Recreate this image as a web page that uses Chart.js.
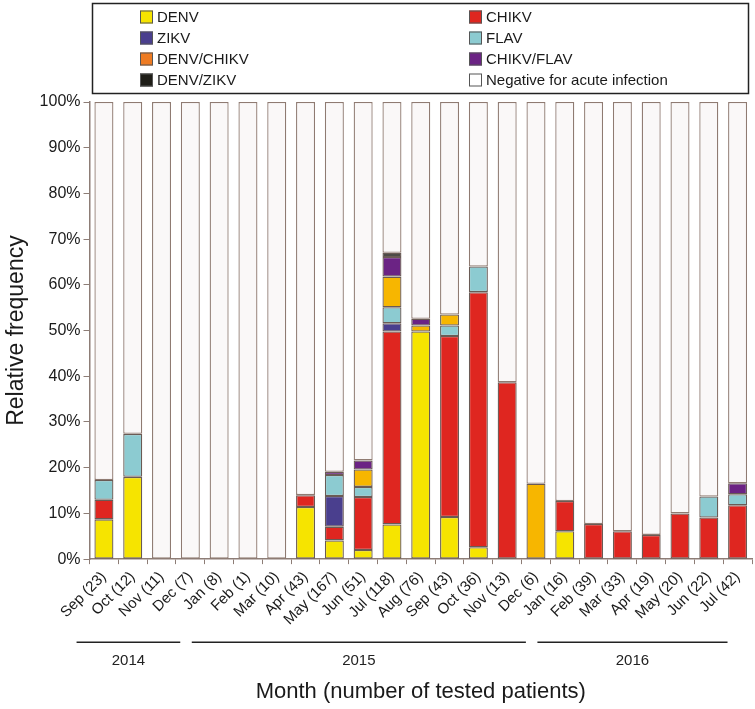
<!DOCTYPE html>
<html>
<head>
<meta charset="utf-8">
<script src="https://cdn.jsdelivr.net/npm/chart.js@4/dist/chart.umd.min.js"></script>
<style>
  html, body { margin: 0; padding: 0; background: #fff; }
  #wrap { width: 755px; height: 709px; }
</style>
</head>
<body>
<div id="wrap"><canvas id="myChart" width="755" height="709"></canvas></div>
<script>
const ctx = document.getElementById('myChart')

const months = [
    'Sep (23)', 'Oct (12)', 'Nov (11)', 'Dec (7)',
    'Jan (8)', 'Feb (1)', 'Mar (10)', 'Apr (43)', 'May (167)', 'Jun (51)',
    'Jul (118)', 'Aug (76)', 'Sep (43)', 'Oct (36)', 'Nov (13)', 'Dec (6)',
    'Jan (16)', 'Feb (39)', 'Mar (33)', 'Apr (19)', 'May (20)', 'Jun (22)', 'Jul (42)'
]

// year groups: first and last month index
const years = [
    { label: '2014', from: 0, to: 3 },
    { label: '2015', from: 4, to: 15 },
    { label: '2016', from: 16, to: 22 }
]

// percent of tested patients (stacked bottom to top)
const denv      = [8.7, 18.0, null, null, null, null, null, 11.4, 4.1, 2.0, 7.6, 49.8, 9.2, 2.6, null, null, 6.1, null, null, null, null, null, null]
const chikv     = [4.3, null, null, null, null, null, null, 2.6, 3.0, 11.6, 42.2, null, 39.6, 55.8, 38.7, null, 6.6, 7.7, 6.1, 5.3, 10.0, 9.1, 11.8]
const zikv      = [null, null, null, null, null, null, null, null, 6.7, null, 1.8, null, null, null, null, null, null, null, null, null, null, null, null]
const flav      = [4.3, 9.4, null, null, null, null, null, null, 4.6, 2.2, 3.5, null, 2.3, 5.6, null, null, null, null, null, null, null, 4.6, 2.4]
const denvChikv = [null, null, null, null, null, null, null, null, null, 3.8, 6.7, 1.3, 2.4, null, null, 16.5, null, null, null, null, null, null, null]
const chikvFlav = [null, null, null, null, null, null, null, null, 0.7, 2.0, 4.3, 1.5, null, null, null, null, null, null, null, null, null, null, 2.4]
const denvZikv  = [null, null, null, null, null, null, null, null, null, null, 0.9, null, null, null, null, null, null, null, null, null, null, null, null]
const negative  = [82.7, 72.6, 100, 100, 100, 100, 100, 86.0, 80.9, 78.4, 33.0, 47.4, 46.5, 36.0, 61.3, 83.5, 87.3, 92.3, 93.9, 94.7, 90.0, 86.3, 83.4]

const FONT = "'Liberation Sans', Arial, sans-serif"

function series(label, values, color, legendColor, border) {
    return {
        label,
        data: values,
        backgroundColor: color,
        legendColor: legendColor || color,
        borderColor: border || '#6a5b55',
        borderWidth: 1.3,
        borderSkipped: false,
        stack: 's'
    }
}

const data = {
    labels: months,
    datasets: [
        series('DENV', denv, '#f6e400'),
        series('CHIKV', chikv, '#df2620'),
        series('ZIKV', zikv, '#4a3f8e'),
        series('FLAV', flav, '#8ccbd1'),
        series('DENV/CHIKV', denvChikv, '#f7b600', '#ee7b22'),
        series('CHIKV/FLAV', chikvFlav, '#6b2384'),
        series('DENV/ZIKV', denvZikv, '#1f1e18'),
        series('Negative for acute infection', negative, '#faf8f8', '#ffffff', '#8f7b72')
    ]
}

// two-column boxed legend at the top
const boxLegend = {
    id: 'boxLegend',
    afterDraw(chart) {
        const c = chart.ctx
        c.save()
        c.strokeStyle = '#222'
        c.lineWidth = 1.5
        c.strokeRect(92.5, 3.5, 656, 90)
        c.font = '15px ' + FONT
        c.textBaseline = 'middle'
        c.textAlign = 'left'
        chart.data.datasets.forEach((ds, i) => {
            const col = i % 2
            const row = Math.floor(i / 2)
            const x = col === 0 ? 140 : 469
            const y = 17 + row * 21
            c.fillStyle = ds.legendColor
            c.fillRect(x, y - 6.5, 13, 13)
            c.strokeStyle = '#555'
            c.lineWidth = 1
            c.strokeRect(x + 0.5, y - 6, 12, 12)
            c.fillStyle = '#1a1a1a'
            c.fillText(ds.label, x + 17, y + 1)
        })
        c.restore()
    }
}

// year brackets below the month labels
const yearGroups = {
    id: 'yearGroups',
    afterDraw(chart) {
        const x = chart.scales.x
        const c = chart.ctx
        const step = x.getPixelForValue(1) - x.getPixelForValue(0)
        const lineY = chart.chartArea.bottom + 83
        c.save()
        c.strokeStyle = '#222'
        c.lineWidth = 1.5
        c.fillStyle = '#222'
        c.font = '15px ' + FONT
        c.textAlign = 'center'
        c.textBaseline = 'middle'
        years.forEach(g => {
            const x1 = x.getPixelForValue(g.from) - 0.95 * step
            const x2 = x.getPixelForValue(g.to) - 0.35 * step
            c.beginPath()
            c.moveTo(x1, lineY)
            c.lineTo(x2, lineY)
            c.stroke()
            c.fillText(g.label, (x1 + x2) / 2, lineY + 19)
        })
        c.restore()
    }
}

const axisColor = '#8d7d76'

const config = {
    type: 'bar',
    data: data,
    plugins: [boxLegend, yearGroups],
    options: {
        responsive: false,
        animation: false,
        layout: { padding: { top: 102, right: 3, left: 3, bottom: 4 } },
        plugins: {
            legend: { display: false },
            tooltip: { enabled: false }
        },
        datasets: {
            bar: { categoryPercentage: 1, barPercentage: 0.66 }
        },
        scales: {
            x: {
                stacked: true,
                grid: { drawOnChartArea: false, color: axisColor, tickLength: 5, offset: true },
                border: { color: axisColor, width: 1.5 },
                ticks: {
                    autoSkip: false,
                    maxRotation: 45,
                    minRotation: 45,
                    padding: 4,
                    color: '#1a1a1a',
                    font: { family: FONT, size: 15 }
                },
                title: {
                    display: true,
                    text: 'Month (number of tested patients)',
                    color: '#1a1a1a',
                    font: { family: FONT, size: 22 },
                    padding: { top: 46, bottom: 0 }
                }
            },
            y: {
                stacked: true,
                min: 0,
                max: 100,
                grid: { drawOnChartArea: false, color: axisColor, tickLength: 6 },
                border: { color: axisColor, width: 1.5 },
                ticks: {
                    stepSize: 10,
                    padding: 3,
                    color: '#1a1a1a',
                    font: { family: FONT, size: 16 },
                    callback: v => v + '%'
                },
                title: {
                    display: true,
                    text: 'Relative frequency',
                    color: '#1a1a1a',
                    font: { family: FONT, size: 23 },
                    padding: { top: 0, bottom: 6 }
                }
            }
        }
    }
}

const myChart = new Chart(ctx, config)
</script>
</body>
</html>
